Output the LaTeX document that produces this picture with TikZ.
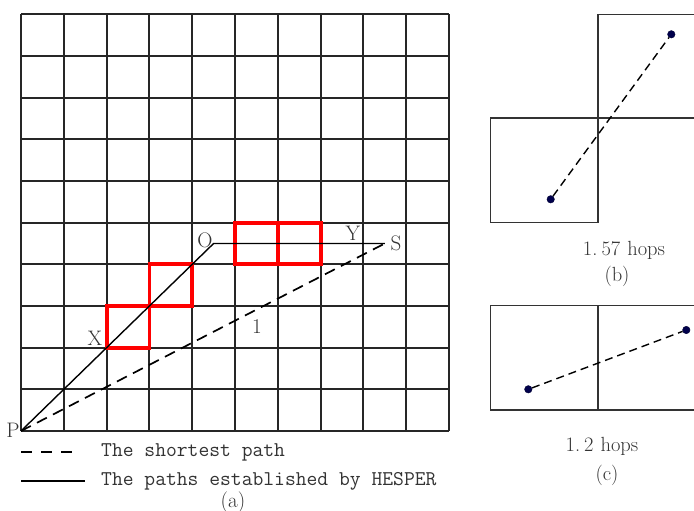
\documentclass[tikz,border=0pt]{standalone}
\usepackage{fontspec}
\setmainfont{Latin Modern Roman}
\setmonofont{Latin Modern Mono}
\usetikzlibrary{positioning}
\tikzset{
  gridline/.style={line width=1.9pt, draw=black!85},
  redbox/.style={line width=3.8pt, draw=red},
  hesper/.style={line width=1.4pt, draw=black},
  shortest/.style={line width=1.7pt, draw=black, dash pattern=on 11pt off 7pt},
  cellline/.style={line width=1.5pt, draw=black!80},
  dot/.style={circle, fill=blue!30!black, draw=blue!20!black, inner sep=0pt, minimum size=7.5pt},
  lbl/.style={font=\fontsize{21}{22}\selectfont\rmfamily, inner sep=0pt, text=black!80},
  hops/.style={font=\fontsize{20.5}{22}\selectfont\rmfamily, inner sep=0pt, text=black!80},
  mono/.style={font=\fontsize{21}{23}\selectfont\ttfamily, inner sep=0pt, anchor=west, text=black!80},
}
\begin{document}
\begin{tikzpicture}[x=1pt,y=-1pt]
\useasboundingbox (0,0) rectangle (694,511);
% ---- grid (a)
\begin{scope}[shift={(21,431)}, x=42.8pt, y=41.67pt]
  \foreach \i in {0,...,10} {
    \draw[gridline] (\i,0) -- (\i,10);
    \draw[gridline] (0,\i) -- (10,\i);
  }
  \draw[redbox] (2,2) rectangle (3,3);
  \draw[redbox] (3,3) rectangle (4,4);
  \draw[redbox] (5,4) rectangle (7,5);
  \draw[redbox] (6,4) -- (6,5);
  \coordinate (P) at (0,0);
  \coordinate (X) at (2,2);
  \coordinate (O) at (4.5,4.5);
  \coordinate (S) at (8.5,4.5);
  \draw[hesper] (P) -- (O) -- (S);
  \draw[shortest] (P) -- (S);
\end{scope}
\node[lbl] (lP) at (13,430) {P};
\node[lbl] (lX) at (95,338) {X};
\node[lbl] (lO) at (205,240) {O};
\node[lbl] (lY) at (353,233) {Y};
\node[lbl] (lS) at (396,243) {S};
\node[lbl] (l1) at (257,327) {1};
% ---- legend
\coordinate (d1) at (21,452);
\coordinate (d2) at (80,452);
\draw[line width=1.7pt, dash pattern=on 11pt off 9pt] (d1) -- (d2);
\coordinate (s1) at (21,481);
\coordinate (s2) at (85,481);
\draw[line width=1.7pt] (s1) -- (s2);
\node[mono] (t1) at (101,452) {The shortest path};
\node[mono] (t2) at (101,481) {The paths established by HESPER};
\node[lbl] (ta) at (233,502) {(a)};
% ---- (b)
\draw[cellline] (490.7,118) rectangle (598,222.7);
\draw[cellline] (598,118) -- (598,14.3) -- (694,14.3);
\draw[cellline] (598,118) -- (694,118);
\node[dot] (b1) at (550.7,199.3) {};
\node[dot] (b2) at (671.3,34.3) {};
\draw[shortest, line width=1.4pt, dash pattern=on 8pt off 5pt] (b1) -- (b2);
\node[hops] (tb1) at (624,250) {1.\hspace{4pt}57\hspace{7pt}hops};
\node[hops] (tb2) at (617,276) {(b)};
% ---- (c)
\draw[cellline] (694,305.7) -- (490.7,305.7) -- (490.7,410) -- (694,410);
\draw[cellline] (598,305.7) -- (598,410);
\node[dot] (c1) at (528.3,389.3) {};
\node[dot] (c2) at (686.3,330) {};
\draw[shortest, line width=1.4pt, dash pattern=on 8pt off 5pt] (c1) -- (c2);
\node[hops] (tc1) at (602,446) {1.\hspace{4pt}2\hspace{7pt}hops};
\node[hops] (tc2) at (607,475) {(c)};
\end{tikzpicture}
\end{document}
